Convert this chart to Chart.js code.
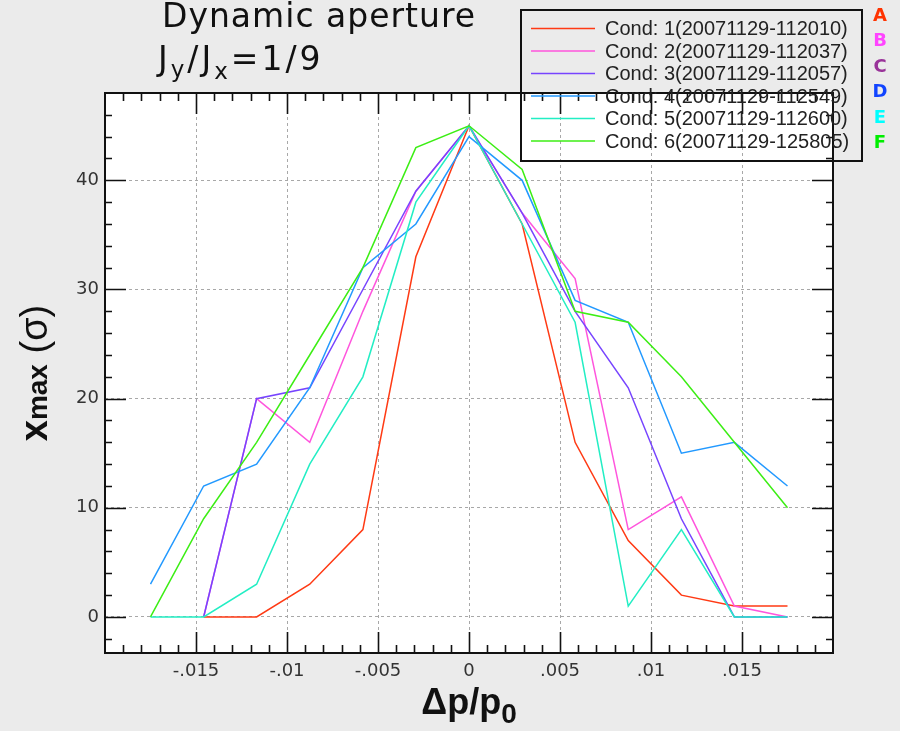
<!DOCTYPE html>
<html>
<head>
<meta charset="utf-8">
<title>Dynamic aperture</title>
<script src="https://cdn.jsdelivr.net/npm/chart.js@4.4.1/dist/chart.umd.min.js"></script>
<style>
	body { margin: 0; background: #ebebeb; }
	#wrap { width: 900px; height: 731px; position: relative; }
</style>
</head>
<body>
<div id="wrap"><canvas id="aperture"></canvas></div>
<script>
var dpp = [-0.0175, -0.01458, -0.01167, -0.00875, -0.00583, -0.00292, 0, 0.00292, 0.00583, 0.00875, 0.01167, 0.01458, 0.0175];
var cond1 = [null, 0, 0, 3, 8, 33, 45, 36, 16, 7, 2, 1, 1];
var cond2 = [null, 0, 20, 16, 28, 39, 45, 37, 31, 8, 11, 1, 0];
var cond3 = [null, 0, 20, 21, 30, 39, 45, 37, 28, 21, 9, 0, 0];
var cond4 = [3, 12, 14, 21, 32, 36, 44, 40, 29, 27, 15, 16, 12];
var cond5 = [0, 0, 3, 14, 22, 38, 45, 36, 27, 1, 8, 0, 0];
var cond6 = [0, 9, 16, 24, 32, 43, 45, 41, 28, 27, 22, 16, 10];
var condLabels = ['Cond: 1(20071129-112010)', 'Cond: 2(20071129-112037)', 'Cond: 3(20071129-112057)',
	'Cond: 4(20071129-112549)', 'Cond: 5(20071129-112600)', 'Cond: 6(20071129-125805)'];
var condColors = ['#ff3a14', '#ff55dd', '#7744ff', '#2299ff', '#22eec4', '#3cee14'];
var markLetters = ['A', 'B', 'C', 'D', 'E', 'F'];
var markColors = ['#ff3300', '#ff44ff', '#993399', '#1144ff', '#00ffff', '#00ee00'];
var xTicks = [-0.015, -0.01, -0.005, 0, 0.005, 0.01, 0.015];
var yTicks = [0, 10, 20, 30, 40];

function drawParts(ctx, parts, x, y) {
	for (let i = 0; i < parts.length; i++) {
		ctx.font = parts[i].font;
		ctx.fillText(parts[i].text, x, y + (parts[i].dy || 0));
		x += ctx.measureText(parts[i].text).width;
	}
}
function partsWidth(ctx, parts) {
	let w = 0;
	for (let i = 0; i < parts.length; i++) {
		ctx.font = parts[i].font;
		w += ctx.measureText(parts[i].text).width;
	}
	return w;
}

var frame = {
	id: 'frame',
	beforeDraw: function (chart) {
		var ctx = chart.ctx, a = chart.chartArea;
		ctx.save();
		ctx.fillStyle = '#ffffff';
		ctx.fillRect(a.left, a.top, a.right - a.left, a.bottom - a.top);
		ctx.restore();
	},
	afterDraw: function (chart) {
		var ctx = chart.ctx, a = chart.chartArea;
		var xs = chart.scales.x, ys = chart.scales.y;
		ctx.save();
		ctx.strokeStyle = '#111';
		ctx.lineWidth = 2;
		ctx.strokeRect(a.left, a.top, a.right - a.left, a.bottom - a.top);
		ctx.lineWidth = 1.6;
		ctx.beginPath();
		// inward ticks, majors long
		for (let i = -19; i <= 19; i++) {
			let px = Math.round(xs.getPixelForValue(i / 1000)) + 0.5;
			let len = (i % 5 == 0) ? 21 : 8;
			ctx.moveTo(px, a.bottom); ctx.lineTo(px, a.bottom - len);
			ctx.moveTo(px, a.top); ctx.lineTo(px, a.top + len);
		}
		for (let v = -2; v <= 46; v += 2) {
			let py = Math.round(ys.getPixelForValue(v)) + 0.5;
			let len = (v % 10 == 0) ? 21 : 7;
			ctx.moveTo(a.left, py); ctx.lineTo(a.left + len, py);
			ctx.moveTo(a.right, py); ctx.lineTo(a.right - len, py);
		}
		ctx.stroke();

		// legend
		ctx.strokeStyle = '#111';
		ctx.lineWidth = 2;
		ctx.strokeRect(521, 10, 341, 151);
		ctx.font = '20px "Liberation Sans"';
		ctx.textBaseline = 'middle';
		for (let i = 0; i < condLabels.length; i++) {
			let ly = 28.5 + i * 22.5;
			ctx.strokeStyle = condColors[i];
			ctx.lineWidth = 1.5;
			ctx.beginPath();
			ctx.moveTo(531, ly); ctx.lineTo(595, ly);
			ctx.stroke();
			ctx.fillStyle = '#222';
			ctx.fillText(condLabels[i], 605, ly + 1);
		}
		ctx.font = 'bold 18px "DejaVu Sans"';
		ctx.textAlign = 'center';
		for (let i = 0; i < markLetters.length; i++) {
			ctx.fillStyle = markColors[i];
			ctx.fillText(markLetters[i], 880, 16 + i * 25.5);
		}

		// titles
		ctx.textAlign = 'left';
		ctx.textBaseline = 'alphabetic';
		ctx.fillStyle = '#111';
		ctx.letterSpacing = '1px';
		drawParts(ctx, [{text: 'Dynamic aperture', font: '33px "DejaVu Sans"'}], 162, 27);
		ctx.letterSpacing = '3px';
		drawParts(ctx, [
			{text: 'J', font: '33px "DejaVu Sans"'},
			{text: 'y', font: '23px "DejaVu Sans"', dy: 7},
			{text: '/J', font: '33px "DejaVu Sans"'},
			{text: 'x', font: '23px "DejaVu Sans"', dy: 9},
			{text: '=1/9', font: '33px "DejaVu Sans"'}
		], 158, 70);
		ctx.letterSpacing = '0px';

		var xTitle = [
			{text: '\u0394p/p', font: 'bold 36px "Liberation Sans"'},
			{text: '0', font: 'bold 28px "Liberation Sans"', dy: 9}
		];
		drawParts(ctx, xTitle, (a.left + a.right) / 2 - partsWidth(ctx, xTitle) / 2, 714);

		var yTitle = [
			{text: 'x', font: 'bold 38px "Liberation Sans"'},
			{text: 'max', font: 'bold 28px "Liberation Sans"'},
			{text: ' (\u03c3)', font: '38px "Liberation Sans"'}
		];
		ctx.translate(47, (a.top + a.bottom) / 2);
		ctx.rotate(-Math.PI / 2);
		drawParts(ctx, yTitle, -partsWidth(ctx, yTitle) / 2, 0);
		ctx.restore();
	}
};

function fntAperture() {
	var sets = [cond1, cond2, cond3, cond4, cond5, cond6];
	var datasets = [];
	for (let i = 0; i < sets.length; i++) {
		let pts = [];
		for (let j = 0; j < dpp.length; j++) {
			pts.push({x: dpp[j], y: sets[i][j]});
		}
		datasets.push({
			label: condLabels[i],
			data: pts,
			borderColor: condColors[i],
			borderWidth: 1.5,
			pointRadius: 0,
			tension: 0,
			fill: false,
			order: sets.length - i
		});
	}
	new Chart(document.getElementById('aperture'), {
		type: 'line',
		data: { datasets: datasets },
		options: {
			responsive: true,
			maintainAspectRatio: false,
			animation: false,
			layout: { padding: { top: 93, right: 67, left: 0, bottom: 0 } },
			plugins: { legend: { display: false }, tooltip: { enabled: false } },
			scales: {
				x: {
					type: 'linear',
					min: -0.02,
					max: 0.02,
					afterFit: function (s) { s.height = 78; },
					afterBuildTicks: function (s) { s.ticks = xTicks.map(function (v) { return {value: v}; }); },
					grid: { color: '#a8a8a8', drawTicks: false },
					border: { display: false, dash: [3, 3] },
					ticks: {
						autoSkip: false,
						maxRotation: 0,
						padding: 8,
						color: '#333',
						font: { family: 'DejaVu Sans', size: 18 },
						callback: function (v) {
							if (v == 0) return '0';
							return (v < 0 ? '-' : '') + String(Math.abs(v)).replace(/^0/, '');
						}
					}
				},
				y: {
					min: -3.3,
					max: 48,
					afterFit: function (s) { s.width = 105; },
					afterBuildTicks: function (s) { s.ticks = yTicks.map(function (v) { return {value: v}; }); },
					grid: { color: '#a8a8a8', drawTicks: false },
					border: { display: false, dash: [3, 3] },
					ticks: {
						autoSkip: false,
						padding: 6,
						color: '#333',
						font: { family: 'DejaVu Sans', size: 18 }
					}
				}
			}
		},
		plugins: [frame]
	});
}
fntAperture();
</script>
</body>
</html>
